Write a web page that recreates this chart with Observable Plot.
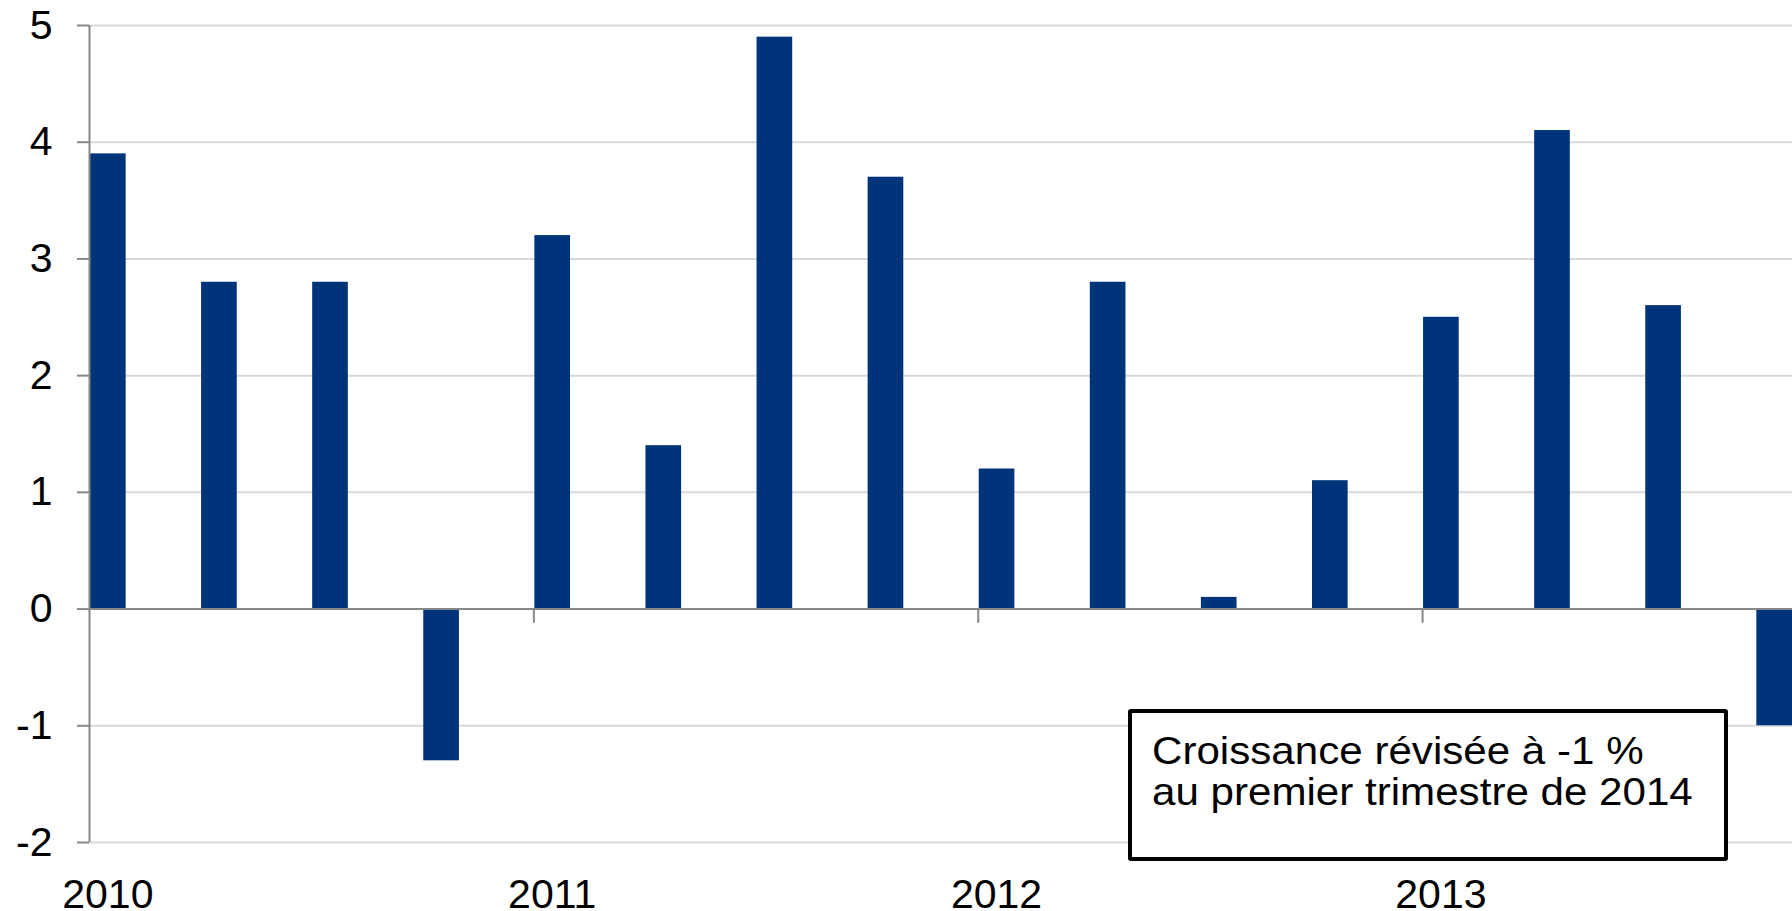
<!DOCTYPE html>
<html>
<head>
<meta charset="utf-8">
<script src="https://cdn.jsdelivr.net/npm/d3@7"></script>
<script src="https://cdn.jsdelivr.net/npm/@observablehq/plot@0.6"></script>
<style>
  html, body { margin: 0; padding: 0; background: #fff; }
  #wrap { position: relative; width: 1792px; height: 911px; font-family: "Liberation Sans", Arial, sans-serif; color: #000; }
  #wrap svg { display: block; }
  #note {
    position: absolute; left: 1128px; top: 709px;
    width: 592px; height: 144px;
    border: 4px solid #000; border-radius: 3px; background: #fff;
    box-sizing: content-box;
    font-size: 39px; line-height: 41px;
    padding: 0;
  }
  #note .txt {
    position: absolute; left: 20px; top: 17px;
    white-space: nowrap;
    transform: scaleX(1.08); transform-origin: left top;
  }
</style>
</head>
<body>
<div id="wrap"></div>
<script>
// ---- Data ----
const quarters = [
  "2010 T1", "2010 T2", "2010 T3", "2010 T4",
  "2011 T1", "2011 T2", "2011 T3", "2011 T4",
  "2012 T1", "2012 T2", "2012 T3", "2012 T4",
  "2013 T1", "2013 T2", "2013 T3", "2013 T4"
];
const growth = [3.9, 2.8, 2.8, -1.3, 3.2, 1.4, 4.9, 3.7, 1.2, 2.8, 0.1, 1.1, 2.5, 4.1, 2.6, -1.0];
const yearLabels = ["2010", "2011", "2012", "2013"];
const yearStartIndex = [0, 4, 8, 12];
const yTicks = [-2, -1, 0, 1, 2, 3, 4, 5];
const noteLines = ["Croissance révisée à -1 %", "au premier trimestre de 2014"];

// ---- Chart ----
const barFrac = 0.33;
const data = quarters.map((q, i) => ({ q, i, v: growth[i] }));
const axisGray = "#878787";

const tickShape = {
  draw(context, l) {
    context.moveTo(0, 0);
    context.lineTo(0, -l);
  }
};

const chart = Plot.plot({
  width: 1792,
  height: 911,
  marginTop: 25,
  marginBottom: 69,
  marginLeft: 89,
  marginRight: 0,
  style: { fontFamily: "'Liberation Sans', Arial, sans-serif", background: "#fff", color: "#000", overflow: "visible" },
  x: { type: "linear", domain: [0, quarters.length - 1 + barFrac], axis: null },
  y: { domain: [d3.min(yTicks), d3.max(yTicks)], axis: null },
  marks: [
    Plot.gridY(yTicks, { stroke: "#d9d9d9", strokeOpacity: 1, strokeWidth: 2 }),
    Plot.rectY(data, { x1: "i", x2: d => d.i + barFrac, y1: 0, y2: "v", fill: "#00347a", insetLeft: 1 }),
    Plot.ruleY([0], { stroke: axisGray, strokeWidth: 2 }),
    Plot.ruleX([0], { stroke: axisGray, strokeWidth: 2 }),
    Plot.axisY(yTicks, {
      label: null,
      tickSize: 12, tickPadding: 25, fontSize: 41,
      stroke: axisGray, strokeWidth: 2, fill: "#000",
      tickFormat: d => String(d)
    }),
    Plot.vector(yearStartIndex.slice(1), {
      x: d => d, y: 0, length: 13, rotate: 180, anchor: "start",
      shape: tickShape, stroke: axisGray, strokeWidth: 2
    }),
    Plot.text(yearLabels, {
      x: (d, i) => yearStartIndex[i] + barFrac / 2,
      frameAnchor: "bottom", lineAnchor: "bottom", dy: 65,
      fontSize: 41, fill: "#000", text: d => d
    })
  ]
});

const wrap = document.getElementById("wrap");
wrap.appendChild(chart);

const note = document.createElement("div");
note.id = "note";
const txt = document.createElement("div");
txt.className = "txt";
txt.innerHTML = noteLines.map(s => `<div>${s}</div>`).join("");
note.appendChild(txt);
wrap.appendChild(note);
</script>
</body>
</html>
